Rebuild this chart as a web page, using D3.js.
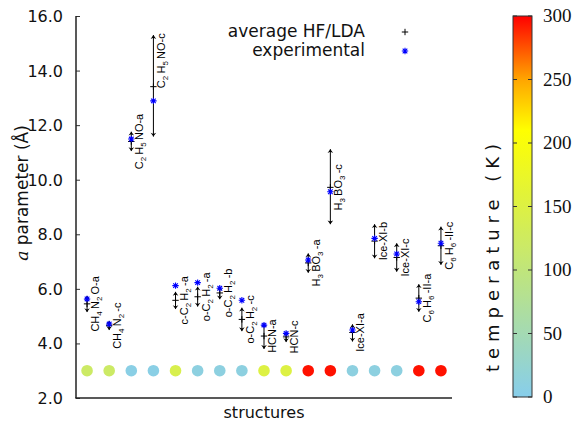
<!DOCTYPE html>
<html>
<head>
<meta charset="utf-8">
<script src="https://cdn.jsdelivr.net/npm/d3@7"></script>
<style>
  body { margin: 0; background: #fff; }
  svg { display: block; }
</style>
</head>
<body>
<div id="chart"></div>
<script>
// data

var structures = ["CH_4N_2O-a", "CH_4N_2-c", "C_2H_5NO-a", "C_2H_5NO-c", "c-C_2H_2-a",
  "o-C_2H_2-a", "o-C_2H_2-b", "o-C_2H_2-c", "HCN-a", "HCN-c", "H_3BO_3-a", "H_3BO_3-c",
  "Ice-XI-a", "Ice-XI-b", "Ice-XI-c", "C_6H_6-II-a", "C_6H_6-II-c"];
var hfValues  = [5.74, 4.82, 11.76, 15.30, 5.89, 6.08, 6.08, 5.31, 4.74, 4.43, 7.30, 11.12, 4.70, 8.37, 7.67, 6.17, 8.28];
var ldaValues = [5.15, 4.49, 11.05, 11.58, 5.26, 5.35, 5.62, 4.45, 3.80, 4.05, 6.59, 8.37, 4.07, 7.12, 6.63, 5.16, 6.88];
var averageValues = [5.45, 4.65, 11.40, 13.41, 5.58, 5.71, 5.85, 4.88, 4.27, 4.24, 6.95, 9.72, 4.40, 7.75, 7.15, 5.66, 7.58];
var experimentalValues = [5.63, 4.71, 11.49, 12.89, 6.12, 6.23, 6.02, 5.58, 4.67, 4.37, 7.06, 9.56, 4.49, 7.85, 7.28, 5.53, 7.67];
var temperatures = [120, 120, 5, 5, 141, 10, 10, 10, 150, 150, 295, 295, 10, 10, 10, 295, 295];
var labelNudge = [0, 0, 0, 0.95, 0, 0, 0, 0, 0, 0, 0, 0, 0, 0, 0, 0, 0];
var yTicks = [2, 4, 6, 8, 10, 12, 14, 16];
var tempTicks = [0, 50, 100, 150, 200, 250, 300];

var svgWidth = 574;
var svgHeight = 423;

let svg = d3.select("#chart")
  .append("svg")
  .attr("width", svgWidth)
  .attr("height", svgHeight);

let x = d3.scaleLinear()
  .domain([-0.5, 16.5])
  .range([76, 452]);

let y = d3.scaleLinear()
  .domain([2, 16])
  .range([398, 16]);

let color = d3.scaleLinear()
  .domain([0, 210, 250, 300])
  .range(["#87ceeb", "#ffff00", "#ffa500", "#ff0000"]);

// axes, left and bottom only, ticks inward
let yAxis = d3.axisRight(y)
  .tickValues(yTicks)
  .tickSize(4)
  .tickFormat("");

svg.append("g")
  .attr("transform", "translate(76,0)")
  .call(yAxis)
  .call(g => g.select(".domain").remove())
  .selectAll("line").attr("stroke", "#333");

svg.append("line")
  .attr("x1", 76).attr("x2", 76)
  .attr("y1", y(16)).attr("y2", y(2))
  .attr("stroke", "#222").attr("stroke-width", 1.5);
svg.append("line")
  .attr("x1", 75.25).attr("x2", 452)
  .attr("y1", y(2)).attr("y2", y(2))
  .attr("stroke", "#222").attr("stroke-width", 1.5);

svg.selectAll(".ytick")
  .data(yTicks)
  .enter()
  .append("text")
  .attr("x", 63)
  .attr("y", d => y(d) + 6)
  .attr("text-anchor", "end")
  .attr("font-family", "DejaVu Sans")
  .attr("font-size", 16)
  .attr("fill", "#111")
  .text(d => d.toFixed(1));

// axis titles
let yTitle = svg.append("text")
  .attr("transform", "translate(28,193) rotate(-90)")
  .attr("text-anchor", "middle")
  .attr("font-family", "DejaVu Sans")
  .attr("font-size", 17)
  .attr("fill", "#111");
yTitle.append("tspan").attr("font-family", "DejaVu Serif").attr("font-style", "italic").text("a");
yTitle.append("tspan").text(" parameter (Å)");

svg.append("text")
  .attr("x", 264)
  .attr("y", 418)
  .attr("text-anchor", "middle")
  .attr("font-family", "DejaVu Sans")
  .attr("font-size", 16)
  .attr("fill", "#111")
  .text("structures");

// temperature dots
svg.selectAll(".dot")
  .data(temperatures)
  .enter()
  .append("circle")
  .attr("cx", (d, i) => x(i))
  .attr("cy", y(3))
  .attr("r", 5.8)
  .attr("fill", d => color(d));

// HF/LDA range bars with heads
let idx = d3.range(structures.length);

svg.selectAll(".bar")
  .data(idx)
  .enter()
  .append("line")
  .attr("x1", i => x(i)).attr("x2", i => x(i))
  .attr("y1", i => y(hfValues[i])).attr("y2", i => y(ldaValues[i]))
  .attr("stroke", "#000")
  .attr("stroke-width", 1);

function head(px, py, dir) {
  // dir -1 points up, +1 points down
  return `M${px},${py} L${px - 2.8},${py - dir * 3.8} L${px},${py - dir * 2.6} L${px + 2.8},${py - dir * 3.8} Z`;
}

svg.selectAll(".headTop")
  .data(idx)
  .enter()
  .append("path")
  .attr("d", i => head(x(i), y(hfValues[i]), -1))
  .attr("fill", "#000");

svg.selectAll(".headBottom")
  .data(idx)
  .enter()
  .append("path")
  .attr("d", i => head(x(i), y(ldaValues[i]), 1))
  .attr("fill", "#000");

function plus(px, py, s) {
  return `M${px - s},${py} H${px + s} M${px},${py - s} V${py + s}`;
}

function star(px, py, s) {
  let d = s * 0.72;
  return plus(px, py, s) + `M${px - d},${py - d} L${px + d},${py + d} M${px - d},${py + d} L${px + d},${py - d}`;
}

svg.selectAll(".avg")
  .data(idx)
  .enter()
  .append("path")
  .attr("d", i => plus(x(i), y(averageValues[i]), 3.2))
  .attr("stroke", "#000")
  .attr("stroke-width", 1);

svg.selectAll(".exp")
  .data(idx)
  .enter()
  .append("path")
  .attr("d", i => star(x(i), y(experimentalValues[i]), 3.2))
  .attr("stroke", "#0000ff")
  .attr("stroke-width", 1.1);

// structure labels, rotated, with subscripts
idx.forEach(function(i) {
  let t = svg.append("text")
    .attr("transform", `translate(${x(i) + 12}, ${y(averageValues[i] + labelNudge[i])}) rotate(-90)`)
    .attr("text-anchor", "middle")
    .attr("font-family", "Liberation Sans")
    .attr("font-size", 11)
    .attr("fill", "#000");
  let parts = structures[i].split(/_(\d)/);
  parts.forEach(function(p, k) {
    if (p === "") return;
    if (k % 2 === 1) {
      t.append("tspan").attr("font-size", 8).attr("dy", 3).text(p);
      t.append("tspan").attr("font-size", 11).attr("dy", -3).text("\u2009");
    } else {
      t.append("tspan").text(p);
    }
  });
});

// legend
svg.append("text")
  .attr("x", 365).attr("y", 37)
  .attr("text-anchor", "end")
  .attr("font-family", "DejaVu Sans")
  .attr("font-size", 17)
  .attr("fill", "#111")
  .text("average HF/LDA");
svg.append("text")
  .attr("x", 365).attr("y", 56)
  .attr("text-anchor", "end")
  .attr("font-family", "DejaVu Sans")
  .attr("font-size", 17)
  .attr("fill", "#111")
  .text("experimental");
svg.append("path").attr("d", plus(405, 32, 3.2)).attr("stroke", "#000").attr("stroke-width", 1);
svg.append("path").attr("d", star(405, 51, 3.2)).attr("stroke", "#0000ff").attr("stroke-width", 1.1);

// colour bar
let cb = d3.scaleLinear().domain([0, 300]).range([397, 16]);

let defs = svg.append("defs");
let grad = defs.append("linearGradient")
  .attr("id", "tempGrad")
  .attr("x1", 0).attr("y1", 1).attr("x2", 0).attr("y2", 0);
grad.selectAll("stop")
  .data(d3.range(0, 301, 10))
  .enter()
  .append("stop")
  .attr("offset", d => d / 300)
  .attr("stop-color", d => color(d));

svg.append("rect")
  .attr("x", 513).attr("y", cb(300))
  .attr("width", 19).attr("height", cb(0) - cb(300))
  .attr("fill", "url(#tempGrad)")
  .attr("stroke", "#333")
  .attr("stroke-width", 1);

svg.selectAll(".cbTickL")
  .data(tempTicks)
  .enter()
  .append("line")
  .attr("x1", 513).attr("x2", 517)
  .attr("y1", d => cb(d)).attr("y2", d => cb(d))
  .attr("stroke", "#333");
svg.selectAll(".cbTickR")
  .data(tempTicks)
  .enter()
  .append("line")
  .attr("x1", 528).attr("x2", 532)
  .attr("y1", d => cb(d)).attr("y2", d => cb(d))
  .attr("stroke", "#333");

svg.selectAll(".cbLabel")
  .data(tempTicks)
  .enter()
  .append("text")
  .attr("x", 543)
  .attr("y", d => cb(d) + 6)
  .attr("font-family", "Liberation Serif")
  .attr("font-size", 19)
  .attr("fill", "#111")
  .text(d => d);

svg.append("text")
  .attr("transform", "translate(499,258) rotate(-90)")
  .attr("text-anchor", "middle")
  .attr("font-family", "DejaVu Sans")
  .attr("font-size", 18)
  .attr("textLength", 228)
  .attr("lengthAdjust", "spacing")
  .attr("fill", "#111")
  .text("temperature (K)");
</script>
</body>
</html>
